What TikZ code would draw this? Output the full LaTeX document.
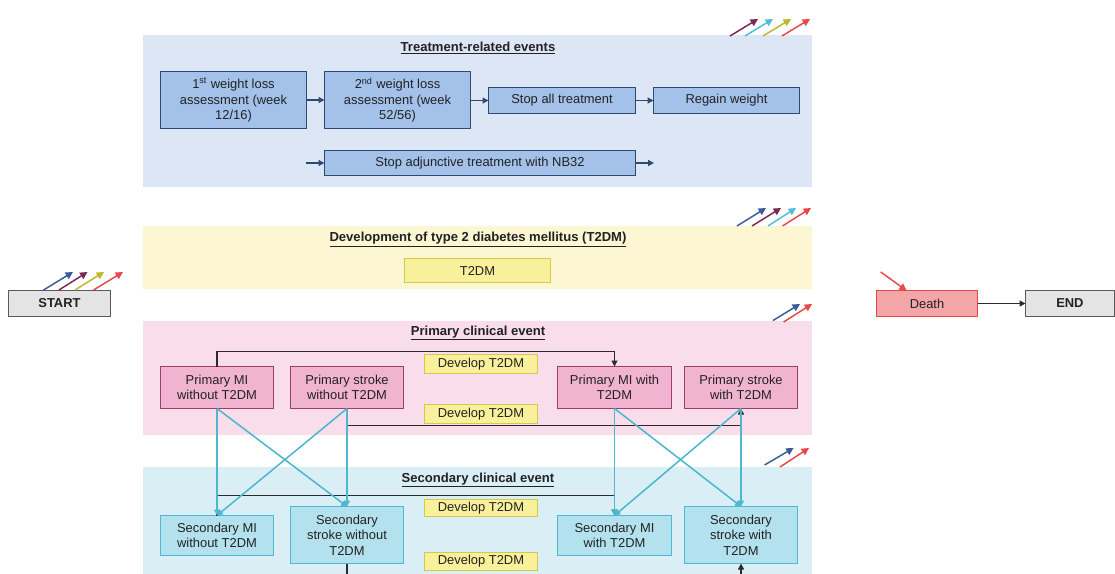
\documentclass[tikz,border=0pt]{standalone}
\usepackage{fontspec}
\setmainfont{Liberation Sans}
\usetikzlibrary{arrows.meta}
\definecolor{txt}{HTML}{222222}
\definecolor{pnlA}{HTML}{DCE6F5}
\definecolor{pnlB}{HTML}{FCF7D2}
\definecolor{pnlC}{HTML}{F9DDEA}
\definecolor{pnlD}{HTML}{DAEFF5}
\definecolor{trF}{HTML}{A3C1E9}
\definecolor{trD}{HTML}{2E4A72}
\definecolor{yeF}{HTML}{F8F09A}
\definecolor{yeD}{HTML}{D4CA4A}
\definecolor{piF}{HTML}{F0B4D1}
\definecolor{piD}{HTML}{9C3E69}
\definecolor{cyF}{HTML}{B3E1EE}
\definecolor{cyD}{HTML}{4EB8D2}
\definecolor{grF}{HTML}{E4E4E4}
\definecolor{grD}{HTML}{5A5A5A}
\definecolor{deF}{HTML}{F3A5A7}
\definecolor{deD}{HTML}{E2474B}
\definecolor{aBlue}{HTML}{3A5C9A}
\definecolor{aMaroon}{HTML}{7A2A50}
\definecolor{aCyan}{HTML}{52BCD8}
\definecolor{aOlive}{HTML}{BDB72A}
\definecolor{aRed}{HTML}{E84848}
\definecolor{blk}{HTML}{2B2B2B}
\definecolor{cyl}{HTML}{4DB7CE}
\newcommand\mybox[7]{\node[#6, minimum width={(#4-#2)*0.75pt}, minimum height={(#5-#3)*0.75pt}] (#1) at ({(#2+#4)/2},{(#3+#5)/2}) {#7};}
\newcommand\mypanel[5]{\fill[#5] (#1,#2) rectangle (#3,#4);}
\tikzset{
  basebox/.style={draw, inner sep=0pt, outer sep=0pt, line width=1.1pt, align=center, text=txt, font=\fontsize{9.7}{11.6}\selectfont},
  trbox/.style={basebox, fill=trF, draw=trD},
  yebox/.style={basebox, fill=yeF, draw=yeD},
  pibox/.style={basebox, fill=piF, draw=piD},
  cybox/.style={basebox, fill=cyF, draw=cyD},
  grbox/.style={basebox, fill=grF, draw=grD, font=\fontsize{9.7}{11.6}\selectfont\bfseries},
  debox/.style={basebox, fill=deF, draw=deD},
  ptitle/.style={font=\fontsize{9.8}{11.6}\selectfont\bfseries, text=txt, inner sep=0pt},
  tip/.style={-{Triangle[length=4.5pt,width=4.5pt]}},
  trarr/.style={tip, draw=trD, line width=1pt},
  blkarr/.style={draw=blk, line width=1.1pt},
  cyarr/.style={tip, draw=cyl, line width=1.15pt},
  slant/.style={-{Triangle[length=5.5pt,width=5.5pt]}, line width=1.1pt},
}
\begin{document}
\begin{tikzpicture}[x=0.75pt,y=-0.75pt]
\useasboundingbox (0,0) rectangle (1115,574);
\clip (0,0) rectangle (1115,574);
\fill[white] (0,0) rectangle (1115,574);
% panels
\mypanel{143}{35}{812}{186.7}{pnlA}
\mypanel{143}{226}{812}{289.3}{pnlB}
\mypanel{143}{320.7}{812}{435}{pnlC}
\mypanel{143}{467.3}{812}{590}{pnlD}
% titles
\node[ptitle] (t1) at (478,48) {\underline{Treatment-related events}};
\node[ptitle] (t2) at (478,239.5) {\underline{Development of type 2 diabetes mellitus (T2DM)}};
\node[ptitle] (t3) at (478,333) {\underline{Primary clinical event}};
\node[ptitle] (t4) at (478,480) {\underline{Secondary clinical event}};
% treatment boxes
\mybox{tw1}{160.5}{71.5}{306.5}{128.5}{trbox}{1\textsuperscript{st} weight loss\\assessment (week\\12/16)}
\mybox{tw2}{324.5}{71.5}{470.5}{128.5}{trbox}{2\textsuperscript{nd} weight loss\\assessment (week\\52/56)}
\mybox{tstop}{488.5}{87.5}{635.5}{113.5}{trbox}{Stop all treatment}
\mybox{treg}{653.5}{87.5}{799.5}{113.5}{trbox}{Regain weight}
\mybox{tadj}{324.5}{150.5}{635.5}{175.5}{trbox}{Stop adjunctive treatment with NB32}
\coordinate (adjin) at (306,163);
\coordinate (adjout) at (654,163);
\draw[trarr] (tw1) -- (tw2);
\draw[trarr] (tw2.east |- tstop) -- (tstop);
\draw[trarr] (tstop) -- (treg);
\draw[trarr] (adjin) -- (tadj.west |- adjin);
\draw[trarr] (tadj.east |- adjout) -- (adjout);
% T2DM
\mybox{t2dm}{404.5}{258.5}{550.5}{282.5}{yebox}{T2DM}
% start / death / end
\mybox{start}{8.5}{290.5}{110.5}{316.5}{grbox}{START}
\mybox{death}{876.5}{290.5}{977.5}{316.5}{debox}{Death}
\mybox{end}{1025.5}{290.5}{1114.3}{316.5}{grbox}{END}
\draw[blkarr, tip] (death) -- (end);
% primary boxes
\mybox{pmi0}{160.5}{366.5}{273.5}{408.5}{pibox}{Primary MI\\without T2DM}
\mybox{pst0}{290.5}{366.5}{403.5}{408.5}{pibox}{Primary stroke\\without T2DM}
\mybox{pdev1}{424.5}{354.5}{537.5}{373.5}{yebox}{Develop T2DM}
\mybox{pmi1}{557.5}{366.5}{671.5}{408.5}{pibox}{Primary MI with\\T2DM}
\mybox{pst1}{684.5}{366.5}{797.5}{408.5}{pibox}{Primary stroke\\with T2DM}
\mybox{pdev2}{424.5}{404.5}{537.5}{423.5}{yebox}{Develop T2DM}
% secondary boxes
\mybox{smi0}{160.5}{515.5}{273.5}{555.5}{cybox}{Secondary MI\\without T2DM}
\mybox{sst0}{290.5}{506.5}{403.5}{563.5}{cybox}{Secondary\\stroke without\\T2DM}
\mybox{sdev1}{424.5}{499.5}{537.5}{516.5}{yebox}{Develop T2DM}
\mybox{smi1}{557.5}{515.5}{671.5}{555.5}{cybox}{Secondary MI\\with T2DM}
\mybox{sst1}{684.5}{506.5}{797.5}{563.5}{cybox}{Secondary\\stroke with\\T2DM}
\mybox{sdev2}{424.5}{552.5}{537.5}{570.5}{yebox}{Develop T2DM}
% black connectors
\coordinate (ptop) at (0,351.5);
\coordinate (pbot) at (0,425.5);
\coordinate (stopc) at (0,495.5);
\coordinate (sout) at (0,590);
\draw[blkarr, tip] (pmi0.north) -- (pmi0.north |- ptop) -| (pmi1.north);
\draw[blkarr, tip] (pst0.south) -- (pst0.south |- pbot) -| (pst1.south);
\draw[blkarr, tip] (smi0.north) -- (smi0.north |- stopc) -| (smi1.north);
\draw[blkarr] (sst0.south) -- (sst0.south |- sout);
\draw[blkarr, tip] (sst1.south |- sout) -- (sst1.south);
% cyan connectors
\draw[cyarr] (pmi0.south) -- (smi0.north);
\draw[cyarr] (pmi0.south) -- (sst0.north);
\draw[cyarr] (pst0.south) -- (sst0.north);
\draw[cyarr] (pst0.south) -- (smi0.north);
\draw[cyarr] (pmi1.south) -- (smi1.north);
\draw[cyarr] (pmi1.south) -- (sst1.north);
\draw[cyarr] (pst1.south) -- (sst1.north);
\draw[cyarr] (pst1.south) -- (smi1.north);
% slanted colour arrows
\draw[slant, aMaroon] (730,36) -- (758,19);
\draw[slant, aCyan] (745,36) -- (773,19);
\draw[slant, aOlive] (763,36) -- (791,19);
\draw[slant, aRed] (782,36) -- (810,19);
\draw[slant, aBlue] (737,226) -- (766,208);
\draw[slant, aMaroon] (752,226) -- (781,208);
\draw[slant, aCyan] (768,226) -- (796,208);
\draw[slant, aRed] (782.5,226) -- (811,208);
\draw[slant, aBlue] (43.6,290) -- (73,272);
\draw[slant, aMaroon] (59,290) -- (87.5,272);
\draw[slant, aOlive] (75,290) -- (104,272);
\draw[slant, aRed] (93.6,290) -- (123,272);
\draw[slant, aBlue] (773,320.5) -- (800,304);
\draw[slant, aRed] (783.6,322) -- (812,304);
\draw[slant, aBlue] (764.6,465) -- (793.6,448);
\draw[slant, aRed] (780,467) -- (809,448);
\draw[slant, aRed] (880.7,272) -- (906.7,290.7);
\end{tikzpicture}
\end{document}
